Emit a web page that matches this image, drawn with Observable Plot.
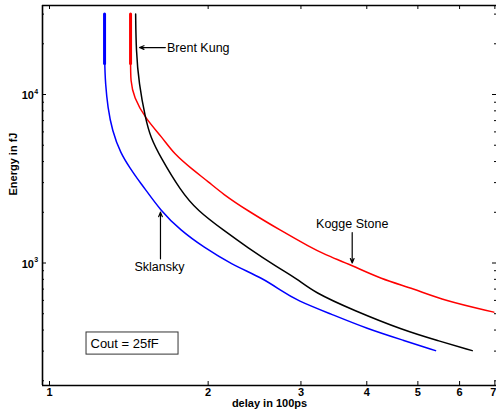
<!DOCTYPE html>
<html><head><meta charset="utf-8">
<script src="https://cdn.jsdelivr.net/npm/d3@7"></script>
<script src="https://cdn.jsdelivr.net/npm/@observablehq/plot@0.6"></script>
<style>html,body{margin:0;padding:0;background:#fff;overflow:hidden} svg{display:block}</style>
</head><body><div id="chart"></div>
<script>
// Sklansky (blue)
const sklDelay  = [1.272, 1.272, 1.277, 1.290, 1.315, 1.364, 1.425, 1.467, 1.510, 1.624, 1.773, 1.962, 2.205, 2.552, 2.745, 2.951, 3.415, 4.008, 4.702, 5.402];
const sklEnergy = [30000, 15300, 11600, 8370, 6110, 4470, 3620, 3170, 2820, 2050, 1560, 1240, 989, 806, 687, 599, 499, 407, 347, 302];
// Kogge Stone (red)
const ksDelay  = [1.425, 1.425, 1.425, 1.445, 1.521, 1.636, 1.721, 1.878, 2.006, 2.128, 2.372, 2.745, 3.128, 3.316, 3.753, 4.247, 4.912, 5.601, 6.968];
const ksEnergy = [30000, 15300, 12100, 9640, 7200, 5580, 4450, 3540, 3020, 2580, 2050, 1560, 1240, 1130, 967, 806, 703, 599, 511];
// Brent Kung (black)
const bkDelay  = [1.457, 1.460, 1.478, 1.521, 1.555, 1.624, 1.773, 1.907, 2.142, 2.372, 2.706, 2.951, 3.173, 3.779, 4.702, 5.443, 6.341];
const bkEnergy = [30000, 18240, 11620, 7200, 5580, 4250, 2690, 2050, 1560, 1240, 944, 806, 671, 523, 398, 347, 302];

// axis ticks
const xTicks = [1, 2, 3, 4, 5, 6, 7];
const yMajor = [1000, 10000];
const yMinor = [200, 300, 400, 500, 600, 700, 800, 900, 2000, 3000, 4000, 5000, 6000, 7000, 8000, 9000, 20000, 30000];
const xDomain = [0.9699, 7.05];
const yDomain = [187.5, 33750];

// annotations (data coordinates)
const annoText = ["Brent Kung", "Kogge Stone", "Sklansky"];
const annoX    = [1.671, 3.753, 1.617];
const annoY    = [19000, 1693, 953];
const arrowX1  = [1.659, 3.753, 1.624];
const arrowY1  = [19000, 1517, 1059];
const arrowX2  = [1.482, 3.753, 1.624];
const arrowY2  = [19000, 1000, 2002];
const boxText = "Cout = 25fF";
const boxX = [1.1756, 1.7573];
const boxY = [286, 387];
const boxTextX = 1.1962, boxTextY = 333;

const toRows = (xs, ys) => xs.map((x, i) => ({delay: x, energy: ys[i]}));
const skl = toRows(sklDelay, sklEnergy);
const ks = toRows(ksDelay, ksEnergy);
const bk = toRows(bkDelay, bkEnergy);
const annos = annoText.map((t, i) => ({t, x: annoX[i], y: annoY[i], x1: arrowX1[i], y1: arrowY1[i], x2: arrowX2[i], y2: arrowY2[i]}));

const font = "Liberation Sans, Arial, Helvetica, sans-serif";
const chart = Plot.plot({
  width: 496, height: 419,
  marginLeft: 42, marginRight: 0, marginTop: 5, marginBottom: 34,
  x: {type: "log", domain: xDomain, axis: null},
  y: {type: "log", domain: yDomain, axis: null},
  style: {fontFamily: font, background: "white", overflow: "visible"},
  marks: [
    // ticks (inward)
    Plot.ruleX(xTicks, {x: d => d, insetTop: 376, stroke: "black"}),
    Plot.ruleX(xTicks, {x: d => d, insetBottom: 376, stroke: "black"}),
    Plot.ruleY(yMajor, {y: d => d, insetRight: 450, stroke: "black"}),
    Plot.ruleY(yMajor, {y: d => d, insetLeft: 450, stroke: "black"}),
    Plot.ruleY(yMinor, {y: d => d, insetRight: 452, stroke: "black"}),
    Plot.ruleY(yMinor, {y: d => d, insetLeft: 452, stroke: "black"}),
    // curves
    Plot.line(skl, {x: "delay", y: "energy", stroke: "#0000ff", strokeWidth: 1.5, curve: "basis"}),
    Plot.line(skl.slice(0, 2), {x: "delay", y: "energy", stroke: "#0000ff", strokeWidth: 3}),
    Plot.line(ks, {x: "delay", y: "energy", stroke: "#ff0000", strokeWidth: 1.5, curve: "basis"}),
    Plot.line(ks.slice(0, 2), {x: "delay", y: "energy", stroke: "#ff0000", strokeWidth: 3}),
    Plot.line(bk, {x: "delay", y: "energy", stroke: "black", strokeWidth: 1.5, curve: "basis"}),
    // annotations
    Plot.arrow(annos, {x1: "x1", y1: "y1", x2: "x2", y2: "y2", stroke: "black", strokeWidth: 1.2, headLength: 6, headAngle: 45}),
    Plot.text(annos.slice(0, 1), {x: "x", y: "y", text: "t", textAnchor: "start", fontSize: 12.5, fill: "black"}),
    Plot.text(annos.slice(1), {x: "x", y: "y", text: "t", textAnchor: "middle", fontSize: 12.5, fill: "black"}),
    Plot.rect([0], {x1: () => boxX[0], x2: () => boxX[1], y1: () => boxY[0], y2: () => boxY[1], fill: "white", stroke: "#333", strokeWidth: 1}),
    Plot.text([boxText], {x: () => boxTextX, y: () => boxTextY, text: d => d, textAnchor: "start", fontSize: 13, fill: "black"}),
    // tick labels
    Plot.text(xTicks.slice(0, 6), {x: d => d, frameAnchor: "bottom", dy: 10, text: d => String(d), fontWeight: "bold", fontSize: 11, fill: "black"}),
    Plot.text(xTicks.slice(6), {x: d => d, frameAnchor: "bottom", dy: 10, dx: -1.5, text: d => String(d), fontWeight: "bold", fontSize: 11, fill: "black"}),
    Plot.text(yMajor, {y: d => d, frameAnchor: "left", dx: -8.5, dy: 1, textAnchor: "end", text: () => "10", fontWeight: "bold", fontSize: 11, fill: "black"}),
    Plot.text(yMajor, {y: d => d, frameAnchor: "left", dx: -8.3, dy: -3, textAnchor: "start", text: d => String(Math.round(Math.log10(d))), fontWeight: "bold", fontSize: 7, fill: "black"}),
    // axis titles
    Plot.text(["delay in 100ps"], {frameAnchor: "bottom", dy: 21, text: d => d, fontWeight: "bold", fontSize: 11, fill: "black"}),
    Plot.text(["Energy in fJ"], {frameAnchor: "left", dx: -29, rotate: -90, text: d => d, fontWeight: "bold", fontSize: 11, fill: "black"}),
    // frame (left, top, bottom)
    Plot.ruleX([xDomain[0]], {x: d => d, stroke: "black", strokeWidth: 1.6}),
    Plot.ruleY([yDomain[0]], {y: d => d, stroke: "black", strokeWidth: 1.6}),
    Plot.ruleY([yDomain[1]], {y: d => d, stroke: "black", strokeWidth: 1.6})
  ]
});
document.getElementById("chart").appendChild(chart);
</script>
</body></html>
